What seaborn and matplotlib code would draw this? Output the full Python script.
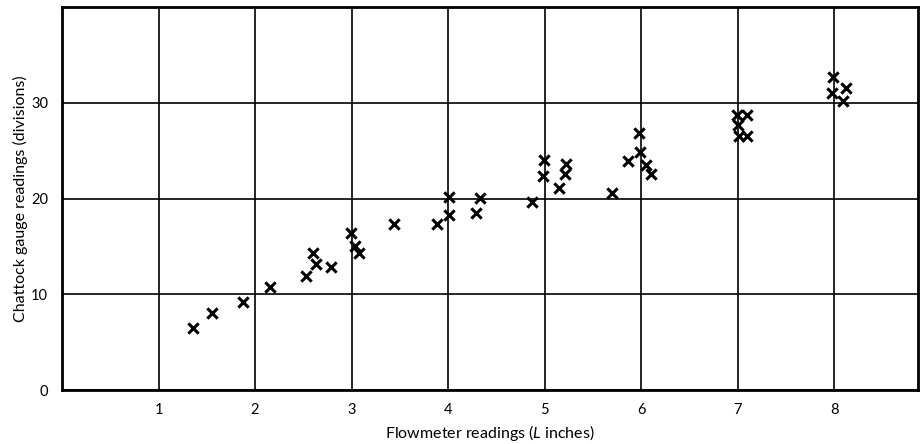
import seaborn as sns
import matplotlib.pyplot as plt
import pandas as pd

# Flowmeter readings (L inches) and Chattock gauge readings (divisions)
flowmeter = [1.36, 1.55, 1.88, 2.15, 2.53, 2.60, 2.63, 2.79, 2.99, 3.04,
             3.08, 3.44, 3.89, 4.01, 4.01, 4.29, 4.33, 4.87, 4.98, 4.99,
             5.15, 5.21, 5.22, 5.70, 5.86, 5.98, 5.99, 6.05, 6.10, 6.99,
             7.10, 7.00, 7.01, 7.10, 7.99, 8.12, 7.98, 8.09]
chattock = [6.5, 8.0, 9.2, 10.8, 11.9, 14.3, 13.2, 12.9, 16.4, 15.0,
            14.3, 17.3, 17.3, 18.3, 20.2, 18.5, 20.1, 19.6, 22.4, 24.0,
            21.1, 22.6, 23.6, 20.6, 23.9, 26.9, 24.9, 23.5, 22.6, 28.7,
            28.7, 27.7, 26.5, 26.5, 32.7, 31.5, 31.0, 30.2]
x_ticks = [1, 2, 3, 4, 5, 6, 7, 8]
y_ticks = [0, 10, 20, 30]

df = pd.DataFrame({'flow': flowmeter, 'chattock': chattock})

sns.set_theme(style='white')
plt.rcParams['font.family'] = ['Lato', 'DejaVu Sans']
plt.rcParams['mathtext.fontset'] = 'custom'
plt.rcParams['mathtext.it'] = 'Lato:italic'
plt.rcParams['mathtext.rm'] = 'Lato'

fig = plt.figure(figsize=(9.22, 4.44), dpi=100)
ax = fig.add_axes([0.0673, 0.1216, 0.9284, 0.8624])

sns.scatterplot(data=df, x='flow', y='chattock', marker='x', color='black',
                s=55, linewidth=2.2, ax=ax, zorder=3)

ax.set_xlim(0, 8.87)
ax.set_ylim(0, 40)
ax.set_xticks(x_ticks)
ax.set_yticks(y_ticks)
ax.grid(True, color='black', linewidth=1.2)
ax.set_axisbelow(True)
for sp in ax.spines.values():
    sp.set_color('black')
    sp.set_linewidth(2)
ax.tick_params(length=0, labelsize=10.5, colors='black', pad=10)
ax.tick_params(axis='x', pad=9)

ax.set_xlabel(r'Flowmeter readings ($\mathit{L}$ inches)', fontsize=11.5,
              color='black', labelpad=5)
ax.set_ylabel('Chattock gauge readings (divisions)', fontsize=11.5,
              color='black', labelpad=2)

fig.savefig('out.png', dpi=100, facecolor='white')
